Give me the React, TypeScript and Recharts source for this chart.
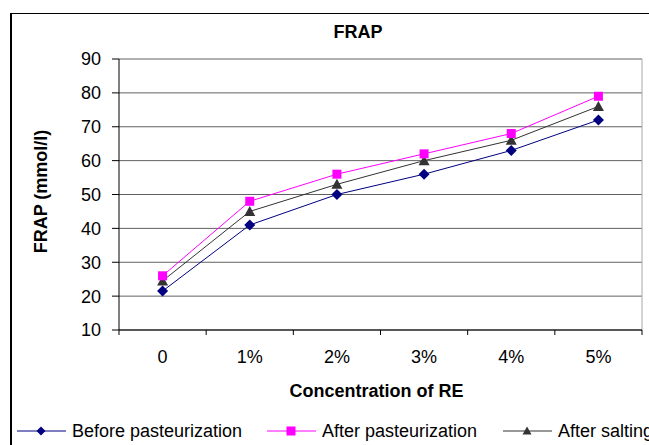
import { LineChart, Line, XAxis, YAxis, CartesianGrid, Label } from 'recharts';

// FRAP values (mmol/l) per RE concentration
const categories = ['0', '1%', '2%', '3%', '4%', '5%'];
const beforePasteurization = [21.5, 41, 50, 56, 63, 72];
const afterPasteurization = [26, 48, 56, 62, 68, 79];
const afterSalting = [24.5, 45, 53, 60, 66, 76];
const yTicks = [10, 20, 30, 40, 50, 60, 70, 80, 90];

const seriesNames = ['Before pasteurization', 'After pasteurization', 'After salting'];

const data = categories.map((c, i) => ({
  conc: c,
  before: beforePasteurization[i],
  afterPast: afterPasteurization[i],
  afterSalt: afterSalting[i],
}));

const W = 649;
const H = 445;
const MARGIN = { top: 59, right: 7, bottom: 0, left: 20 };
const Y_AXIS_W = 99;
const X_AXIS_H = 115;
const PLOT_LEFT = MARGIN.left + Y_AXIS_W;
const PLOT_W = W - PLOT_LEFT - MARGIN.right;
const PLOT_BOTTOM = H - MARGIN.bottom - X_AXIS_H;
const STEP = PLOT_W / categories.length;

const FONT = '"Liberation Sans", Arial, sans-serif';

const NAVY = '#000080';
const MAGENTA = '#FF00FF';
const DARK = '#333333';

// marker shapes; "size" is used because recharts passes its own r to dots
const Diamond = ({ cx, cy, size = 5.5 }: any) => (
  <polygon points={`${cx},${cy - size} ${cx + size},${cy} ${cx},${cy + size} ${cx - size},${cy}`} fill={NAVY} />
);
const Square = ({ cx, cy, size = 4.5 }: any) => (
  <rect x={cx - size} y={cy - size} width={size * 2} height={size * 2} fill={MAGENTA} />
);
const Triangle = ({ cx, cy, size = 5.5 }: any) => (
  <polygon points={`${cx},${cy - size} ${cx + size},${cy + size - 1} ${cx - size},${cy + size - 1}`} fill={DARK} />
);

// category label in the middle, tick marks on the band edges
const XTick = (props: any) => {
  const { x, payload, index } = props;
  const half = STEP / 2;
  return (
    <g>
      <line x1={x - half} x2={x - half} y1={PLOT_BOTTOM} y2={PLOT_BOTTOM + 5} stroke="#000" />
      {index === categories.length - 1 && (
        <line x1={x + half} x2={x + half} y1={PLOT_BOTTOM} y2={PLOT_BOTTOM + 5} stroke="#000" />
      )}
      <text x={x} y={PLOT_BOTTOM + 33} textAnchor="middle" fontSize={18} fontFamily={FONT} fill="#000">
        {payload.value}
      </text>
    </g>
  );
};

const XTitle = ({ viewBox }: any) => (
  <text x={viewBox.x + viewBox.width / 2 - 4} y={viewBox.y + 67} textAnchor="middle"
    fontSize={18} fontWeight="bold" fontFamily={FONT} fill="#000">
    Concentration of RE
  </text>
);

const YTitle = ({ viewBox }: any) => {
  const x = viewBox.x + 27;
  const y = viewBox.y + viewBox.height / 2 - 3;
  return (
    <text x={x} y={y} transform={`rotate(-90, ${x}, ${y})`} textAnchor="middle"
      fontSize={18} fontWeight="bold" fontFamily={FONT} fill="#000">
      FRAP (mmol/l)
    </text>
  );
};

const legendItems = [
  { name: seriesNames[0], color: NAVY, Marker: Diamond, x: 17 },
  { name: seriesNames[1], color: MAGENTA, Marker: Square, x: 267 },
  { name: seriesNames[2], color: DARK, Marker: Triangle, x: 503 },
];

export default function App() {
  return (
    <div style={{ position: 'fixed', left: 0, top: 0, width: W, height: H, overflow: 'hidden', background: '#fff' }}>
      <div style={{ position: 'absolute', left: 10, top: 13, width: 720, height: 520, border: '1px solid #000', borderLeftWidth: 2 }} />
      <div style={{ position: 'absolute', left: 0, top: 0 }}>
        <LineChart width={W} height={H} data={data} margin={MARGIN}>
          <CartesianGrid vertical={false} stroke="#606060" />
          <CartesianGrid horizontal={false} stroke="#a8a8a8"
            verticalCoordinatesGenerator={({ offset }: any) => [offset.left + offset.width]} />
          <XAxis dataKey="conc" scale="band" height={X_AXIS_H} axisLine={{ stroke: '#000' }} tickLine={false}
            tick={<XTick />} interval={0}>
            <Label content={<XTitle />} />
          </XAxis>
          <YAxis width={Y_AXIS_W} domain={[10, 90]} ticks={yTicks} interval={0}
            axisLine={{ stroke: '#000' }} tickLine={{ stroke: '#000' }} tickSize={7} tickMargin={11}
            tick={{ fontSize: 18, fontFamily: FONT, fill: '#000' }}>
            <Label content={<YTitle />} />
          </YAxis>
          <Line dataKey="before" name={seriesNames[0]} stroke={NAVY} strokeWidth={1}
            dot={<Diamond />} activeDot={false} isAnimationActive={false} />
          <Line dataKey="afterSalt" name={seriesNames[2]} stroke={DARK} strokeWidth={1}
            dot={<Triangle />} activeDot={false} isAnimationActive={false} />
          <Line dataKey="afterPast" name={seriesNames[1]} stroke={MAGENTA} strokeWidth={1}
            dot={<Square />} activeDot={false} isAnimationActive={false} />
          <text x={358} y={38} textAnchor="middle" fontSize={18} fontWeight="bold" fontFamily={FONT} fill="#000">
            FRAP
          </text>
          <g>
            {legendItems.map(({ name, color, Marker, x }) => (
              <g key={name}>
                <line x1={x} x2={x + 49} y1={431} y2={431} stroke={color} strokeWidth={1} />
                <Marker cx={x + 24} cy={431} size={4.5} />
                <text x={x + 55} y={437} fontSize={18} fontFamily={FONT} fill="#000">{name}</text>
              </g>
            ))}
          </g>
        </LineChart>
      </div>
    </div>
  );
}
